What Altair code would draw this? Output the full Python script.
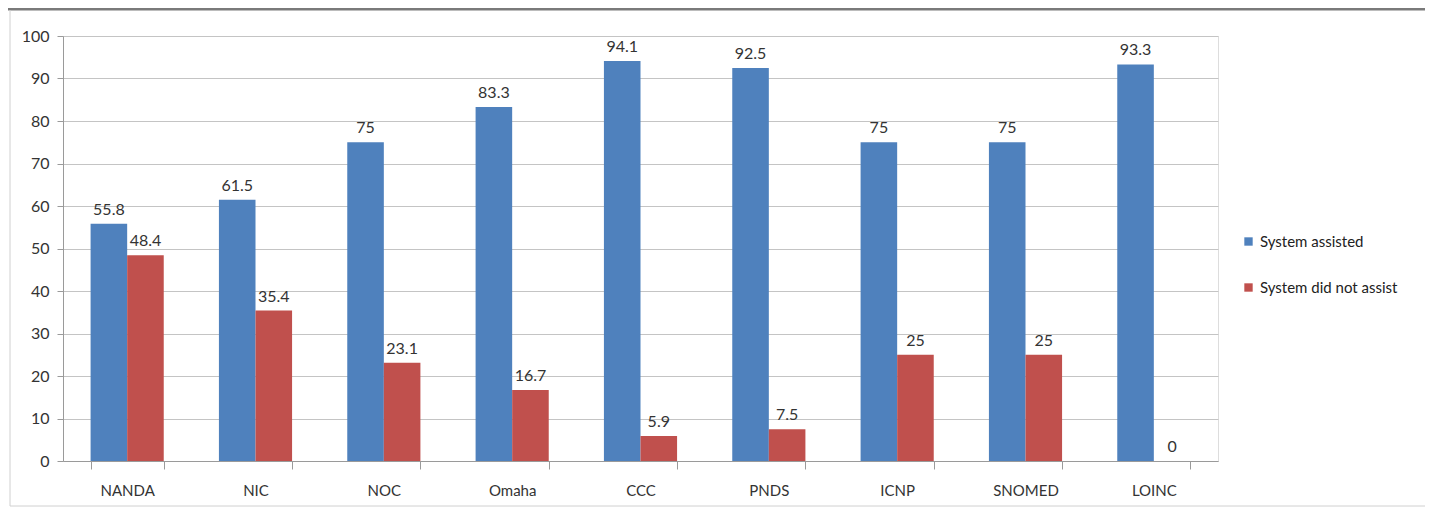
import altair as alt
import pandas as pd

categories = ["NANDA", "NIC", "NOC", "Omaha", "CCC", "PNDS", "ICNP", "SNOMED", "LOINC"]
assisted = [55.8, 61.5, 75, 83.3, 94.1, 92.5, 75, 75, 93.3]
not_assisted = [48.4, 35.4, 23.1, 16.7, 5.9, 7.5, 25, 25, 0]
series = ["System assisted", "System did not assist"]
colors = ["#4F81BD", "#C0504D"]

rows = []
for c, a, n in zip(categories, assisted, not_assisted):
    rows.append({"cat": c, "series": series[0], "value": a, "label": f"{a:g}"})
    rows.append({"cat": c, "series": series[1], "value": n, "label": f"{n:g}"})
df = pd.DataFrame(rows)

FONT = "Lato"

x_enc = alt.X("cat:N", sort=categories, title=None,
              scale=alt.Scale(paddingInner=0.43, paddingOuter=0.215),
              axis=alt.Axis(labelAngle=0, tickBand="extent", tickSize=8,
                            tickColor="#9a9a9a", domainColor="#9a9a9a",
                            labelFontSize=15, labelColor="#333333", labelFont=FONT,
                            labelPadding=14))
y_enc = alt.Y("value:Q", title=None,
              scale=alt.Scale(domain=[0, 100], nice=False),
              axis=alt.Axis(values=list(range(0, 101, 10)), tickSize=6,
                            tickColor="#9a9a9a", domainColor="#9a9a9a",
                            gridColor="#c4c4c4", labelFontSize=16,
                            labelColor="#333333", labelFont=FONT, labelPadding=8))
xoff = alt.XOffset("series:N", sort=series)

bars = alt.Chart(df).mark_bar().encode(
    x=x_enc, y=y_enc, xOffset=xoff,
    color=alt.Color("series:N", sort=series,
                    scale=alt.Scale(domain=series, range=colors),
                    legend=alt.Legend(title=None, orient="none", legendX=1178, legendY=198,
                                      symbolType="square", symbolSize=70,
                                      symbolStrokeWidth=0, rowPadding=30,
                                      labelFontSize=15, labelFont=FONT,
                                      labelColor="#222222", labelOffset=4)))

labels = alt.Chart(df).mark_text(dy=-14, fontSize=16, font=FONT, color="#333333").encode(
    x=alt.X("cat:N", sort=categories), y="value:Q", xOffset=xoff, text="label:N")

frame_top = alt.Chart(pd.DataFrame({"k": [0]})).mark_rule(color="#7a7a7a", strokeWidth=3).encode(
    x=alt.value(-55), x2=alt.value(1362), y=alt.value(-27))
frame_left = alt.Chart(pd.DataFrame({"k": [0]})).mark_rule(color="#d0d0d0", strokeWidth=1).encode(
    x=alt.value(-53), y=alt.value(-26), y2=alt.value(470))
frame_bottom = alt.Chart(pd.DataFrame({"k": [0]})).mark_rule(color="#d0d0d0", strokeWidth=1).encode(
    x=alt.value(-53), x2=alt.value(1362), y=alt.value(470))

chart = alt.layer(bars, labels, frame_top, frame_left, frame_bottom).properties(
    width=1155, height=425,
    autosize=alt.AutoSizeParams(type="none"),
    padding={"left": 55, "top": 28, "right": 207, "bottom": 48},
).configure_view(stroke=None).configure(background="white")

chart.save("out.html", embed_options={"renderer": "svg", "actions": False})
